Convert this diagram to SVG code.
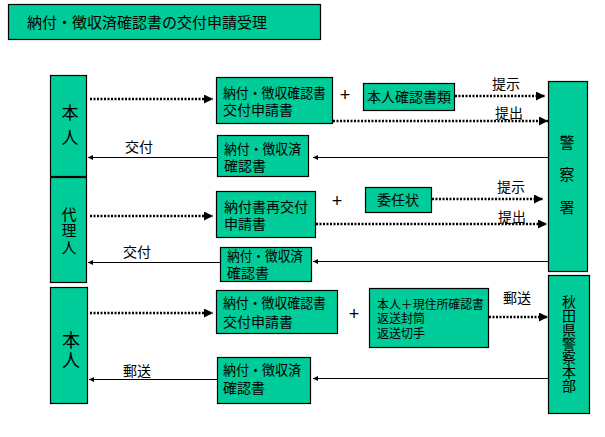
<svg xmlns="http://www.w3.org/2000/svg" width="605" height="437" viewBox="0 0 605 437">
<style>
.box{fill:#00CC99;stroke:#000;stroke-width:1.2}
.title{fill:#00CC99;stroke:#000;stroke-width:1.2}
text{font-family:"Liberation Sans","Noto Sans CJK JP","Noto Sans CJK SC",sans-serif;fill:#000}
.t14{font-size:14px}
.t12{font-size:12px}
.mid{text-anchor:middle}
.vt{writing-mode:vertical-rl}
.dot{stroke:#000;stroke-width:2.5;stroke-dasharray:2 1.5;fill:none}
.sol{stroke:#000;stroke-width:1.2;fill:none}
</style>
<defs>
<marker id="big" viewBox="0 0 10 10" refX="10" refY="5" markerUnits="userSpaceOnUse" markerWidth="11" markerHeight="9" orient="auto">
<path d="M0,0 L10,5 L0,10 Z" fill="#000"/>
</marker>
<marker id="small" viewBox="0 0 10 10" refX="10" refY="5" markerUnits="userSpaceOnUse" markerWidth="7" markerHeight="5" orient="auto">
<path d="M0,0 L10,5 L0,10 Z" fill="#000"/>
</marker>
</defs>
<rect width="605" height="437" fill="#fff"/>

<g id="title">
<rect class="title" x="8.5" y="4.5" width="312" height="35"/>
<text x="27" y="28" style="font-size:15px">納付・徴収済確認書の交付申請受理</text>
</g>

<g id="honnin1">
<rect class="box" x="50.5" y="75.5" width="36" height="101"/>
<text class="vt" x="68" y="104.5" style="font-size:17px;letter-spacing:8px">本人</text>
</g>
<g id="dairinin">
<rect class="box" x="50.5" y="177.5" width="36" height="105"/>
<text class="vt" x="68" y="206.5" style="font-size:15px;letter-spacing:1.5px">代理人</text>
</g>
<g id="honnin2">
<rect class="box" x="50.5" y="287.5" width="37" height="116"/>
<text class="vt" x="69" y="331" style="font-size:18px;letter-spacing:2px">本人</text>
</g>

<g id="a1">
<rect class="box" x="216.5" y="77.5" width="116" height="46"/>
<text class="t14"><tspan x="223" y="98" textLength="103" lengthAdjust="spacingAndGlyphs">納付・徴収確認書</tspan><tspan x="223" y="115">交付申請書</tspan></text>
</g>
<g id="a2">
<rect class="box" x="217.5" y="135.5" width="91" height="41"/>
<text class="t14"><tspan x="224" y="154" textLength="77" lengthAdjust="spacingAndGlyphs">納付・徴収済</tspan><tspan x="224" y="171">確認書</tspan></text>
</g>
<g id="honnin-kakunin">
<rect class="box" x="363.5" y="83.5" width="91" height="27"/>
<text class="t14" x="367" y="102">本人確認書類</text>
</g>
<g id="b1">
<rect class="box" x="216.5" y="191.5" width="99" height="46"/>
<text class="t14"><tspan x="224" y="211.5">納付書再交付</tspan><tspan x="224" y="228.5">申請書</tspan></text>
</g>
<g id="b2">
<rect class="box" x="220.5" y="247.5" width="91" height="34"/>
<text class="t14"><tspan x="227" y="261" textLength="76" lengthAdjust="spacingAndGlyphs">納付・徴収済</tspan><tspan x="227" y="278">確認書</tspan></text>
</g>
<g id="ininjo">
<rect class="box" x="365.5" y="187.5" width="66" height="25"/>
<text class="t14" x="377" y="205">委任状</text>
</g>
<g id="c1">
<rect class="box" x="216.5" y="290.5" width="121" height="43"/>
<text class="t14"><tspan x="223" y="308" textLength="103" lengthAdjust="spacingAndGlyphs">納付・徴収確認書</tspan><tspan x="223" y="327">交付申請書</tspan></text>
</g>
<g id="c2">
<rect class="box" x="217.5" y="357.5" width="93" height="46"/>
<text class="t14"><tspan x="223" y="375" textLength="78" lengthAdjust="spacingAndGlyphs">納付・徴収済</tspan><tspan x="223" y="393">確認書</tspan></text>
</g>
<g id="d">
<rect class="box" x="369.5" y="288.5" width="119" height="59"/>
<text class="t12"><tspan x="377" y="308.5" textLength="107" lengthAdjust="spacingAndGlyphs">本人＋現住所確認書</tspan><tspan x="377" y="323">返送封筒</tspan><tspan x="377" y="337.5">返送切手</tspan></text>
</g>

<g id="keisatsusho">
<rect class="box" x="548.5" y="81.5" width="39" height="190"/>
<text class="vt" x="566" y="134.5" style="font-size:15px;letter-spacing:17.5px">警察署</text>
</g>
<g id="honbu">
<rect class="box" x="548.5" y="275.5" width="41" height="138"/>
<text class="vt" x="568" y="295" style="font-size:14px">秋田県警察本部</text>
</g>

<g id="plus">
<text class="mid" x="345" y="101" style="font-size:18px">+</text>
<text class="mid" x="337" y="207" style="font-size:18px">+</text>
<text class="mid" x="354" y="320" style="font-size:18px">+</text>
</g>

<g id="connectors">
<line class="dot" x1="90" y1="99" x2="213" y2="99" marker-end="url(#big)"/>
<line class="dot" x1="455" y1="96" x2="545" y2="96" marker-end="url(#big)"/>
<line class="dot" x1="333" y1="121" x2="548" y2="121" marker-end="url(#big)"/>
<line class="sol" x1="548" y1="157.5" x2="313" y2="157.5" marker-end="url(#small)"/>
<line class="sol" x1="217" y1="157.5" x2="88" y2="157.5" marker-end="url(#small)"/>

<line class="dot" x1="90" y1="216" x2="213" y2="216" marker-end="url(#big)"/>
<line class="dot" x1="432" y1="199" x2="543" y2="199" marker-end="url(#big)"/>
<line class="dot" x1="316" y1="224" x2="547" y2="224" marker-end="url(#big)"/>
<line class="sol" x1="548" y1="261.5" x2="313" y2="261.5" marker-end="url(#small)"/>
<line class="sol" x1="220" y1="262.5" x2="88" y2="262.5" marker-end="url(#small)"/>

<line class="dot" x1="90" y1="313" x2="213" y2="313" marker-end="url(#big)"/>
<line class="dot" x1="489" y1="317" x2="548" y2="317" marker-end="url(#big)"/>
<line class="sol" x1="548" y1="378.5" x2="313" y2="378.5" marker-end="url(#small)"/>
<line class="sol" x1="217" y1="379.5" x2="89" y2="379.5" marker-end="url(#small)"/>
</g>

<g id="labels">
<text class="t14" x="125" y="152">交付</text>
<text class="t14" x="492" y="89">提示</text>
<text class="t14" x="495" y="118">提出</text>
<text class="t14" x="123" y="257">交付</text>
<text class="t14" x="497" y="192">提示</text>
<text class="t14" x="498" y="222">提出</text>
<text class="t14" x="123" y="376">郵送</text>
<text class="t14" x="503" y="303">郵送</text>
</g>
</svg>
